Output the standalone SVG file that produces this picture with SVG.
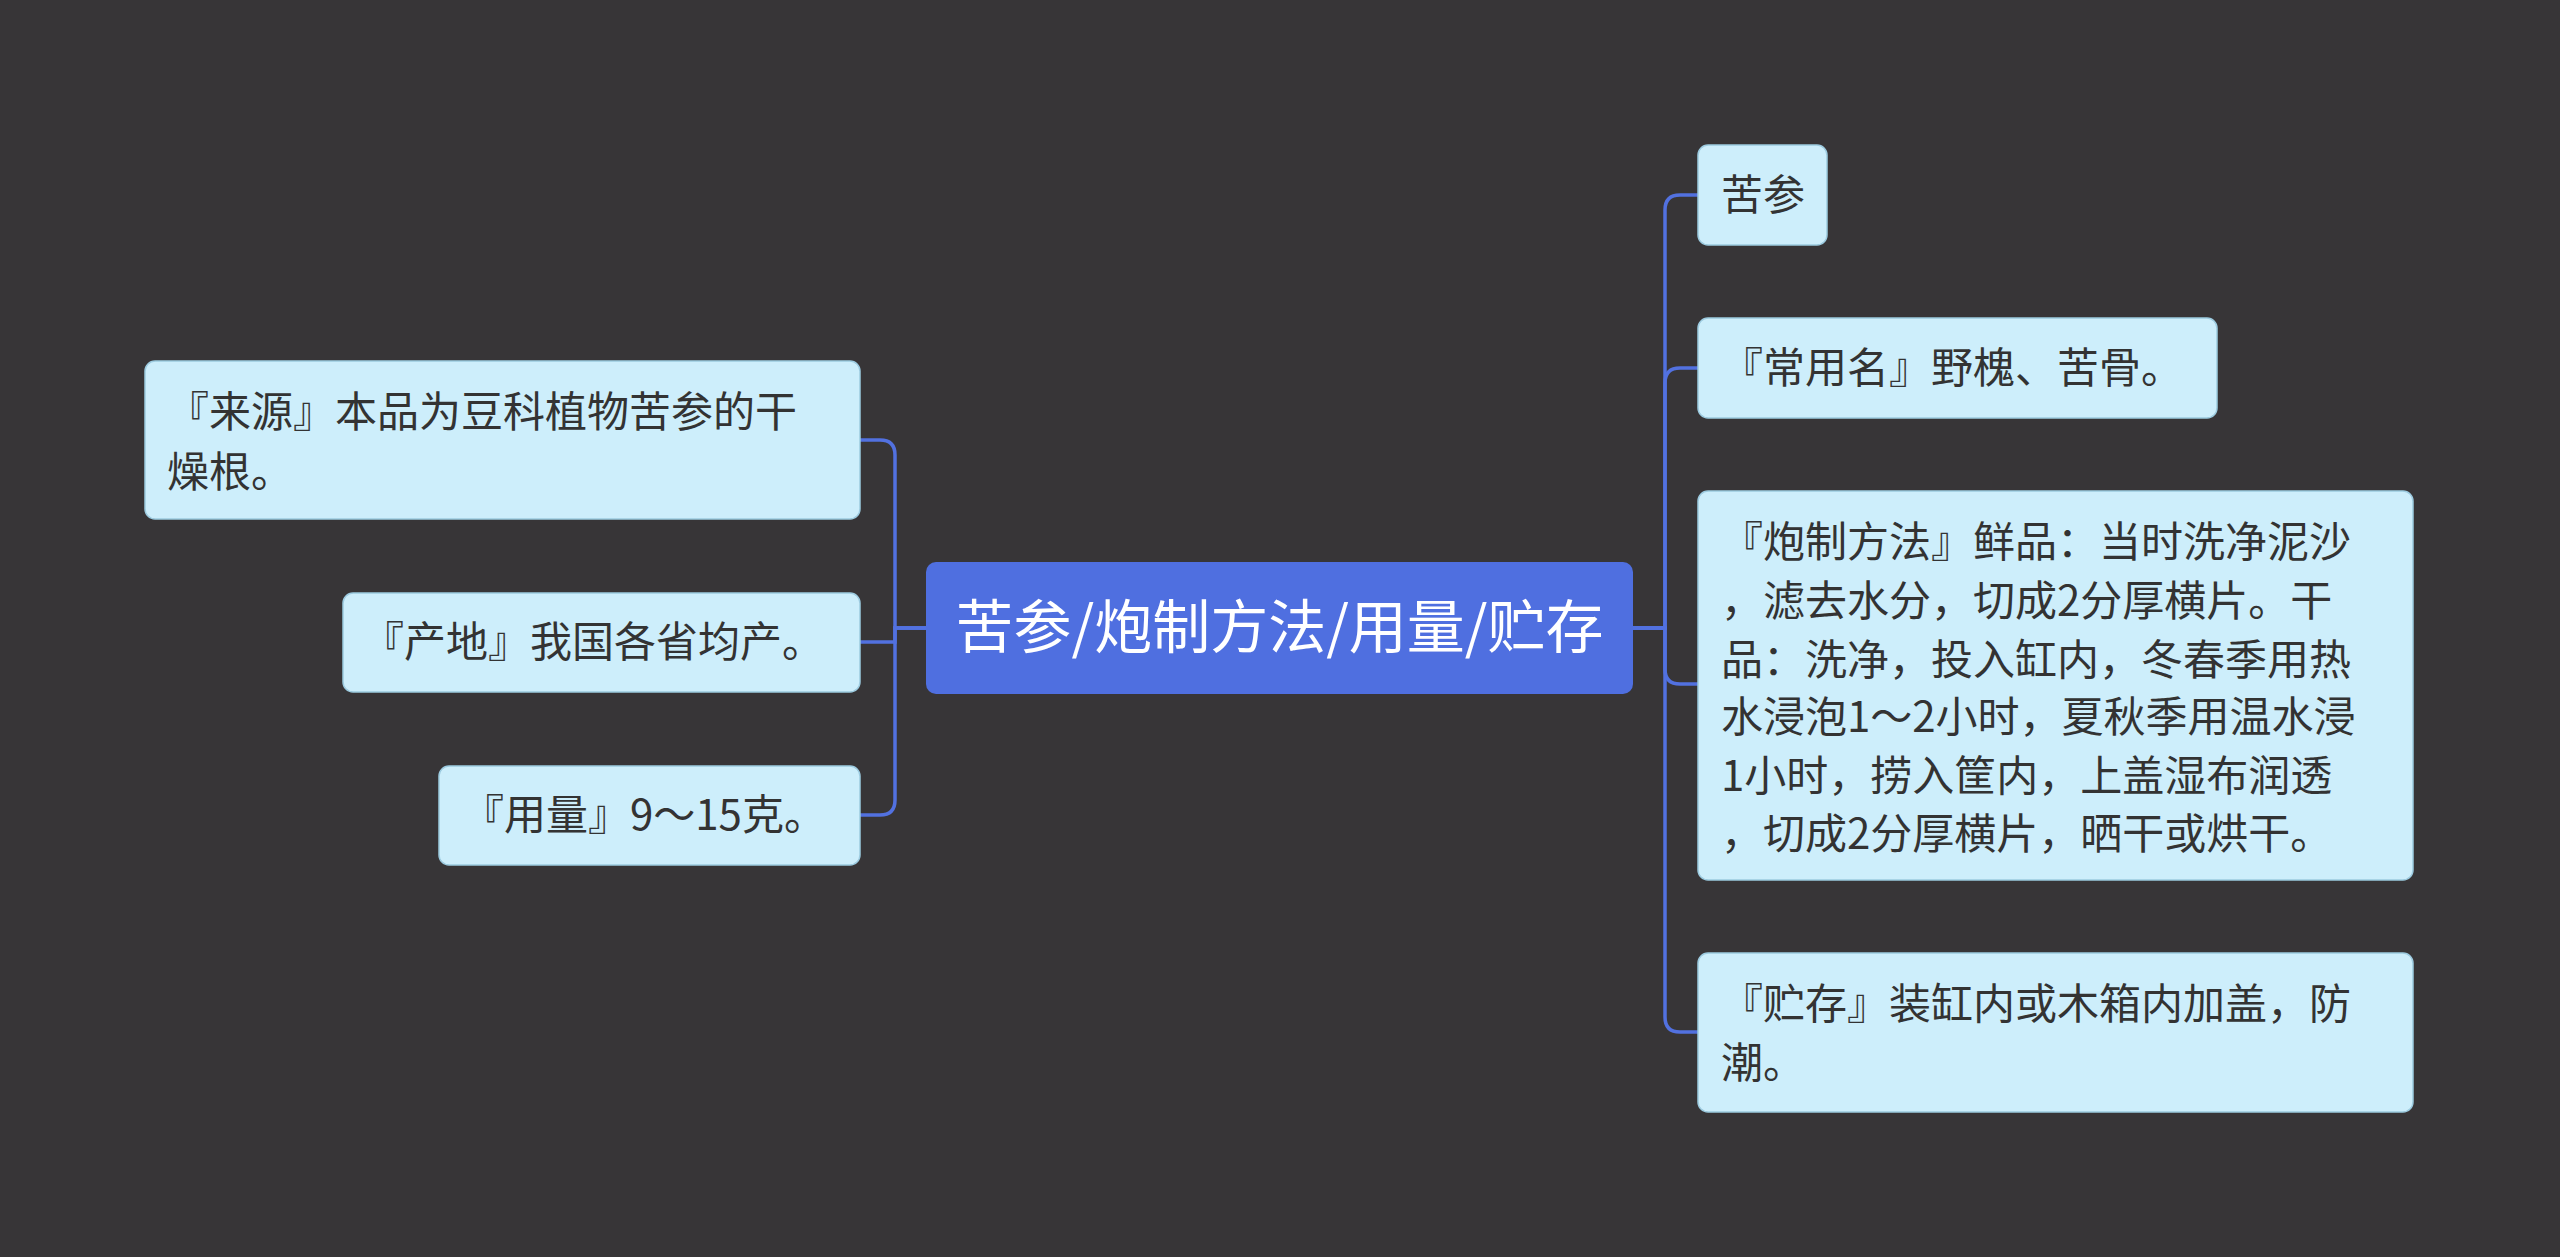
<svg xmlns="http://www.w3.org/2000/svg" width="2560" height="1257" viewBox="0 0 2560 1257">
<style>
.n{fill:#cdeefb;stroke:#9ccbe0;stroke-width:1.5}
.t{font-family:"Noto Sans CJK SC","Noto Sans",sans-serif;font-size:42px;fill:#333333}
.c{fill:none;stroke:#5271e0;stroke-width:3.5}
</style>
<rect width="2560" height="1257" fill="#373537"/>
<g id="connectors">
<path class="c" d="M926 628 H895 V455 Q895 440 880 440 H860"/>
<path class="c" d="M926 628 H895 V642 H860"/>
<path class="c" d="M926 628 H895 V800 Q895 815 880 815 H860"/>
<path class="c" d="M1633 628 H1665 V210 Q1665 195 1680 195 H1698"/>
<path class="c" d="M1633 628 H1665 V383 Q1665 368 1680 368 H1698"/>
<path class="c" d="M1633 628 H1665 V669 Q1665 684 1680 684 H1698"/>
<path class="c" d="M1633 628 H1665 V1017 Q1665 1032 1680 1032 H1698"/>
</g>
<g id="center">
<rect x="926" y="562" width="707" height="132" rx="10" fill="#4f6fe0"/>
<text x="1279.5" y="648" text-anchor="middle" font-family="Noto Sans CJK SC,Noto Sans,sans-serif" font-size="58" fill="#ffffff">苦参/炮制方法/用量/贮存</text>
</g>
<g id="l1"><rect class="n" x="145" y="361" width="715" height="158" rx="10"/>
<text class="t" x="167" y="427">『来源』本品为豆科植物苦参的干</text><text class="t" x="167" y="487">燥根。</text></g>
<g id="l2"><rect class="n" x="343" y="593" width="517" height="99" rx="10"/>
<text class="t" x="362" y="657">『产地』我国各省均产。</text></g>
<g id="l3"><rect class="n" x="439" y="766" width="421" height="99" rx="10"/>
<text class="t" x="462" y="830">『用量』9～15克。</text></g>
<g id="r1"><rect class="n" x="1698" y="145" width="129" height="100" rx="10"/>
<text class="t" x="1721" y="210">苦参</text></g>
<g id="r2"><rect class="n" x="1698" y="318" width="519" height="100" rx="10"/>
<text class="t" x="1721" y="383">『常用名』野槐、苦骨。</text></g>
<g id="r3"><rect class="n" x="1698" y="491" width="715" height="389" rx="10"/>
<text class="t" x="1721" y="557">『炮制方法』鲜品：当时洗净泥沙</text>
<text class="t" x="1721" y="616">，滤去水分，切成2分厚横片。干</text>
<text class="t" x="1721" y="675">品：洗净，投入缸内，冬春季用热</text>
<text class="t" x="1721" y="732">水浸泡1～2小时，夏秋季用温水浸</text>
<text class="t" x="1721" y="791">1小时，捞入筐内，上盖湿布润透</text>
<text class="t" x="1721" y="849">，切成2分厚横片，晒干或烘干。</text></g>
<g id="r4"><rect class="n" x="1698" y="953" width="715" height="159" rx="10"/>
<text class="t" x="1721" y="1019">『贮存』装缸内或木箱内加盖，防</text>
<text class="t" x="1721" y="1078">潮。</text></g>
</svg>
